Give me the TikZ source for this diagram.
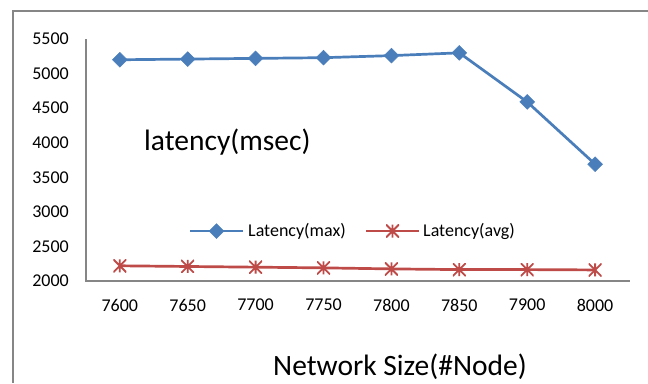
\documentclass[tikz,border=0pt]{standalone}
\usepackage{fontspec}
\setmainfont{Carlito}
\usetikzlibrary{shapes.geometric}
\definecolor{serblue}{HTML}{4A7EBB}
\definecolor{serred}{HTML}{BE4B48}
\definecolor{axgray}{HTML}{868686}
\tikzset{
  frameline/.style={draw=axgray, line width=2.5pt},
  axisline/.style={draw=axgray, line width=2pt},
  dmark/.style={diamond, fill=serblue, draw=serblue, line width=0.5pt, inner sep=0pt, minimum size=15pt},
  smark/.style={rectangle, inner sep=0pt, minimum size=13pt,
    path picture={\draw[serred, line width=1.8pt]
      (path picture bounding box.north west) -- (path picture bounding box.south east)
      (path picture bounding box.south west) -- (path picture bounding box.north east)
      (path picture bounding box.north) -- (path picture bounding box.south);}},
  bluel/.style={draw=serblue, line width=2.7pt},
  redl/.style={draw=serred, line width=2.7pt},
  ticklab/.style={font=\fontsize{18}{20}\selectfont, inner sep=0pt},
  legtext/.style={font=\fontsize{18}{20}\selectfont, inner sep=0pt, anchor=west},
  bigtext/.style={font=\fontsize{29.5}{33}\selectfont, inner sep=0pt}
}
\begin{document}
\begin{tikzpicture}[x=1pt,y=-1pt]
\useasboundingbox (0,0) rectangle (648,383);
% outer frame (top and left edges)
\coordinate (ftr) at (648,11);
\coordinate (ftl) at (13,11);
\coordinate (fbl) at (13,383);
\draw[frameline] (ftr) -- (ftl) -- (fbl);
% axes
\coordinate (ytop) at (86,39);
\coordinate (orig) at (86,281);
\coordinate (xend) at (630,281);
\draw[axisline] (ytop) -- (orig) -- (xend);
% y tick labels
\foreach \v [count=\k from 0] in {2000,2500,3000,3500,4000,4500,5000,5500} {
  \node[ticklab, anchor=east] (yl\k) at (69, {281-\k*34.57}) {\v};
}
% x tick labels
\foreach \lab [count=\k from 0] in {7600,7650,7700,7750,7800,7850,7900,8000} {
  \node[ticklab] (xl\k) at ({119.8+\k*67.9}, 305) {\lab};
}
% series max
\foreach \v [count=\k from 0] in {5200,5210,5220,5230,5260,5300,4590,3690} {
  \coordinate (m\k) at ({119.8+\k*67.9}, {281-(\v-2000)*0.06914});
}
% series avg
\foreach \v [count=\k from 0] in {2220,2210,2200,2190,2175,2165,2165,2160} {
  \coordinate (a\k) at ({119.8+\k*67.9}, {281-(\v-2000)*0.06914});
}
\draw[redl] (a0) -- (a1) -- (a2) -- (a3) -- (a4) -- (a5) -- (a6) -- (a7);
\draw[bluel] (m0) -- (m1) -- (m2) -- (m3) -- (m4) -- (m5) -- (m6) -- (m7);
\foreach \k in {0,...,7} {
  \node[dmark] (dm\k) at (m\k) {};
  \node[smark] (sa\k) at (a\k) {};
}
% legend
\coordinate (lb1) at (190,231);
\coordinate (lb2) at (243,231);
\draw[bluel] (lb1) -- (lb2);
\node[dmark] (lbm) at (216.5,231) {};
\node[legtext] (lbt) at (248,231) {Latency(max)};
\coordinate (lr1) at (366,231);
\coordinate (lr2) at (419,231);
\draw[redl] (lr1) -- (lr2);
\node[smark] (lrm) at (392.5,231) {};
\node[legtext] (lrt) at (423,231) {Latency(avg)};
% titles
\node[bigtext, anchor=west] (ytitle) at (144,142) {latency(msec)};
\node[bigtext] (xtitle) at (400,367) {Network Size(\#Node)};
\end{tikzpicture}
\end{document}
